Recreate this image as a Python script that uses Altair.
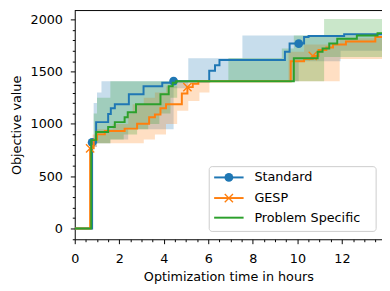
import altair as alt
import pandas as pd

series_names = ["Standard", "GESP", "Problem Specific"]
series_colors = ["#1f77b4", "#ff7f0e", "#2ca02c"]

# ---- best-so-far step lines (hours, objective value) ----
std_t = [0, 0.78, 0.96, 1.50, 1.62, 1.80, 2.43, 3.09, 3.93, 4.44, 6.04, 6.30, 6.50, 9.44, 9.65, 10.30, 10.50, 12.10, 13.8]
std_v = [0, 823, 1017, 1095, 1150, 1189, 1283, 1361, 1393, 1408, 1509, 1560, 1612, 1690, 1768, 1831, 1840, 1858, 1858]
std_mark_t = [0.78, 4.44, 10.06]
std_mark_v = [823, 1410, 1768]

ges_t = [0, 0.69, 0.85, 1.00, 1.35, 2.24, 2.80, 3.34, 3.60, 3.85, 4.10, 4.81, 5.06, 5.30, 5.55, 9.70, 10.30, 10.69, 10.95, 11.30, 11.60, 12.18, 13.50, 13.8]
ges_v = [0, 767, 850, 900, 932, 955, 1001, 1064, 1090, 1150, 1189, 1290, 1352, 1385, 1408, 1600, 1620, 1650, 1706, 1730, 1760, 1788, 1831, 1831]
ges_mark_t = [0.69, 5.06, 10.69]
ges_mark_v = [767, 1352, 1650]

grn_t = [0, 0.74, 0.96, 1.50, 1.80, 2.24, 2.38, 2.75, 3.85, 4.22, 4.40, 4.55, 9.84, 10.91, 11.13, 11.43, 11.79, 12.67, 13.60, 13.8]
grn_v = [0, 845, 923, 970, 1017, 1064, 1111, 1189, 1283, 1361, 1393, 1408, 1628, 1690, 1721, 1768, 1815, 1846, 1868, 1868]

# ---- shaded spread bands ----
std_band_t = [0.72, 0.85, 1.00, 1.20, 1.60, 2.40, 4.44, 5.10, 7.53, 9.44, 10.06, 11.94, 13.8]
std_band_lo = [760, 780, 814, 814, 850, 950, 1340, 1408, 1408, 1408, 1600, 1700, 1700]
std_band_hi = [823, 1200, 1300, 1408, 1408, 1408, 1408, 1627, 1846, 1846, 1846, 1846, 1846]

ges_band_t = [0.66, 0.80, 1.00, 1.70, 2.40, 2.60, 3.10, 3.60, 4.10, 4.60, 5.10, 5.60, 6.05, 9.60, 10.30, 11.90, 13.8]
ges_band_lo = [740, 780, 814, 814, 814, 814, 850, 900, 1000, 1127, 1220, 1300, 1408, 1408, 1408, 1620, 1620]
ges_band_hi = [767, 900, 950, 1000, 1100, 1189, 1250, 1300, 1361, 1408, 1408, 1408, 1408, 1690, 1760, 1820, 1846]

grn_band_t = [0.72, 0.85, 1.00, 1.60, 2.20, 2.80, 3.30, 3.80, 4.30, 4.60, 6.90, 9.30, 9.84, 11.20, 13.8]
grn_band_lo = [780, 814, 814, 850, 900, 950, 1000, 1100, 1250, 1408, 1408, 1408, 1408, 1640, 1640]
grn_band_hi = [845, 1100, 1250, 1408, 1408, 1408, 1408, 1408, 1408, 1408, 1630, 1720, 1846, 2003, 2003]

x_ticks = [i * 0.5 for i in range(0, 28)]
y_ticks = list(range(-100, 2001, 100))

W, H = 313, 233
FONT = "DejaVu Sans"

xs = alt.Scale(domain=[0, 13.8], nice=False, zero=False)
ys = alt.Scale(domain=[-103, 2084], nice=False, zero=False)

x_axis = alt.Axis(
    values=x_ticks, grid=False, title="Optimization time in hours", labelOverlap=False,
    labelExpr="datum.value % 2 === 0 ? '' + datum.value : ''",
    tickSize={"condition": {"test": "datum.value % 2 === 0", "value": 4.5}, "value": 2.5},
    labelPadding=9, titlePadding=5,
)
y_axis = alt.Axis(
    values=y_ticks, grid=False, title="Objective value", labelOverlap=False,
    labelExpr="datum.value % 500 === 0 ? '' + datum.value : ''",
    tickSize={"condition": {"test": "datum.value % 500 === 0", "value": 4.5}, "value": 2.5},
    labelPadding=8, titlePadding=7,
)


def band(t, lo, hi, color):
    df = pd.DataFrame({"t": t, "lo": lo, "hi": hi})
    return alt.Chart(df).mark_area(interpolate="step-after", opacity=0.25, color=color, clip=True).encode(
        x=alt.X("t:Q", scale=xs, axis=x_axis), y=alt.Y("lo:Q", scale=ys, axis=y_axis), y2="hi:Q"
    )


def line(t, v, color):
    df = pd.DataFrame({"t": t, "v": v})
    return alt.Chart(df).mark_line(interpolate="step-after", strokeWidth=2, color=color, clip=True).encode(
        x=alt.X("t:Q", scale=xs, axis=x_axis), y=alt.Y("v:Q", scale=ys, axis=y_axis)
    )


X_PATH = "M-1,-1L1,1M-1,1L1,-1"
CIRCLE_SIZE = 80
X_SIZE = 70

std_marks = alt.Chart(pd.DataFrame({"t": std_mark_t, "v": std_mark_v})).mark_circle(
    size=CIRCLE_SIZE, opacity=1, color=series_colors[0]
).encode(x=alt.X("t:Q", scale=xs, axis=x_axis), y=alt.Y("v:Q", scale=ys, axis=y_axis))
ges_marks = alt.Chart(pd.DataFrame({"t": ges_mark_t, "v": ges_mark_v})).mark_point(
    shape=X_PATH, filled=False, size=X_SIZE, strokeWidth=1.4, opacity=1, color=series_colors[1]
).encode(x=alt.X("t:Q", scale=xs, axis=x_axis), y=alt.Y("v:Q", scale=ys, axis=y_axis))

one = pd.DataFrame({"k": [0]})

frame_top = alt.Chart(one).mark_rule(color="black", strokeWidth=1).encode(
    x=alt.value(0), x2=alt.value(W), y=alt.value(0)
)

# ---- legend (drawn in plot pixel space) ----
LX0, LX1, LY0, LY1 = 137, 307, 159, 225
row_y = [170, 191, 211]
legend_layers = [
    alt.Chart(one).mark_rect(fill="white", fillOpacity=0.8, stroke="#cccccc", strokeWidth=1, cornerRadius=3).encode(
        x=alt.value(LX0), x2=alt.value(LX1), y=alt.value(LY0), y2=alt.value(LY1)
    )
]
for i, (name, col) in enumerate(zip(series_names, series_colors)):
    legend_layers.append(
        alt.Chart(one).mark_rule(color=col, strokeWidth=2).encode(
            x=alt.value(142), x2=alt.value(172), y=alt.value(row_y[i])
        )
    )
    legend_layers.append(
        alt.Chart(pd.DataFrame({"label": [name]})).mark_text(
            align="left", baseline="middle", font=FONT, fontSize=13, color="black"
        ).encode(x=alt.value(183), y=alt.value(row_y[i]), text="label:N")
    )
legend_layers.append(
    alt.Chart(one).mark_circle(size=CIRCLE_SIZE, opacity=1, color=series_colors[0]).encode(x=alt.value(157), y=alt.value(row_y[0]))
)
legend_layers.append(
    alt.Chart(one).mark_point(shape=X_PATH, filled=False, size=X_SIZE, strokeWidth=1.4, opacity=1, color=series_colors[1]).encode(
        x=alt.value(157), y=alt.value(row_y[1])
    )
)

chart = alt.layer(
    band(std_band_t, std_band_lo, std_band_hi, series_colors[0]),
    band(ges_band_t, ges_band_lo, ges_band_hi, series_colors[1]),
    band(grn_band_t, grn_band_lo, grn_band_hi, series_colors[2]),
    line(std_t, std_v, series_colors[0]),
    std_marks,
    line(ges_t, ges_v, series_colors[1]),
    ges_marks,
    line(grn_t, grn_v, series_colors[2]),
    frame_top,
    *legend_layers,
).properties(
    width=W, height=H, autosize="none",
    padding={"left": 68, "top": 0, "right": 0, "bottom": 45},
).configure_view(stroke=None).configure_axis(
    labelFont=FONT, titleFont=FONT, labelFontSize=13, titleFontSize=13,
    labelColor="black", titleColor="black", titleFontWeight="normal",
    domainColor="black", tickColor="black", domainWidth=1, tickWidth=1,
    labelOverlap=False, labelFlush=False,
)

chart.save("out.html", embed_options={"renderer": "svg", "actions": False})
